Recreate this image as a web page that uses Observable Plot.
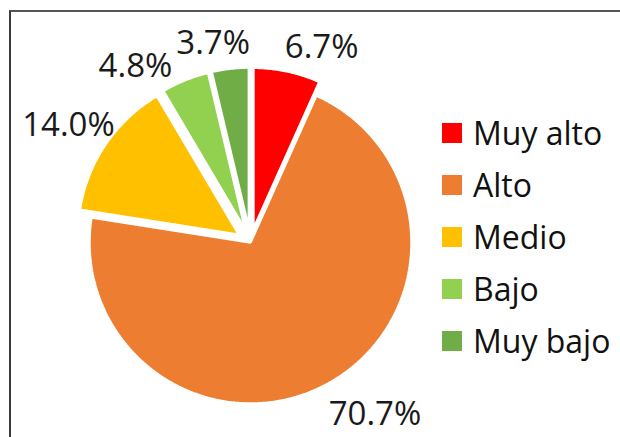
<!DOCTYPE html>
<html><head><meta charset="utf-8">
<script src="https://cdn.jsdelivr.net/npm/d3@7"></script>
<script src="https://cdn.jsdelivr.net/npm/@observablehq/plot@0.6"></script>
<style>
html,body{margin:0;padding:0;background:#fff;overflow:hidden;width:620px;height:437px;}
#frame{position:absolute;left:9px;top:10px;width:700px;height:500px;border-left:2px solid #3a3a3a;border-top:2px solid #555;box-sizing:border-box;}
#chart{position:absolute;left:0;top:0;}
#legend{position:absolute;left:442px;top:107px;font-family:"Open Sans";font-size:32px;color:#111;}
.item{display:flex;align-items:center;height:52px;line-height:1;}
.sw{width:20px;height:20px;margin-right:11px;flex:none;}
</style></head><body>
<div id="chart"></div>
<div id="frame"></div>
<div id="legend"></div>
<script>
// ---- data ----
const categories = ["Muy alto", "Alto", "Medio", "Bajo", "Muy bajo"];
const values = [6.7, 70.7, 14.0, 4.8, 3.7];
const labels = ["6.7%", "70.7%", "14.0%", "4.8%", "3.7%"];
const colors = ["#FF0000", "#ED7D31", "#FFC000", "#92D050", "#70AD47"];
const exploded = [true, false, true, true, true];

// ---- layout ----
const W = 620, H = 437, CX = 250, CY = 242, R = 161;
const EXPLODE = 14, LABEL_RX = 164, LABEL_RY = 186, GAP = 2, FONT = 33, BOX_H = 26;
const FONT_FAMILY = "'Open Sans', sans-serif";

const rows = categories.map((c, i) => ({cat: c, value: values[i], label: labels[i], exploded: exploded[i]}));
const arcs = d3.pie().sort(null).value(d => d.value)(rows);

// slice polygons in radius units (center 0,0, radius 1, y up)
const pts = [];
arcs.forEach(a => {
  const mid = (a.startAngle + a.endAngle) / 2;
  const e = a.data.exploded ? EXPLODE / R : 0;
  const ox = e * Math.sin(mid), oy = e * Math.cos(mid);
  pts.push({cat: a.data.cat, x: ox, y: oy});
  const n = Math.max(2, Math.ceil((a.endAngle - a.startAngle) / (Math.PI / 360)));
  for (let k = 0; k <= n; k++) {
    const t = a.startAngle + (a.endAngle - a.startAngle) * k / n;
    pts.push({cat: a.data.cat, x: ox + Math.sin(t), y: oy + Math.cos(t)});
  }
});

// label boxes (pixel space): nearest corner on an ellipse around the pie
const ctx = document.createElement("canvas").getContext("2d");
ctx.font = `${FONT}px ${FONT_FAMILY}`;
const items = arcs.map(a => {
  const mid = (a.startAngle + a.endAngle) / 2;
  return {label: a.data.label, theta: mid, w: ctx.measureText(a.data.label).width,
          sx: Math.sin(mid) >= 0 ? 1 : -1, sy: Math.cos(mid) >= 0 ? 1 : -1};
});
function box(it) {
  const px = CX + LABEL_RX * Math.sin(it.theta), py = CY - LABEL_RY * Math.cos(it.theta);
  const cx = px + it.sx * it.w / 2;
  const cy = Math.min(py - it.sy * BOX_H / 2, H - FONT * 0.7);
  return {cx, cy, x0: cx - it.w / 2, x1: cx + it.w / 2, y0: cy - BOX_H / 2, y1: cy + BOX_H / 2};
}
// spread colliding labels apart along the circle
const STEP = 0.5 * Math.PI / 180;
for (let iter = 0; iter < 300; iter++) {
  let moved = false;
  for (let i = 0; i < items.length; i++) for (let j = i + 1; j < items.length; j++) {
    const a = box(items[i]), b = box(items[j]);
    if (a.x1 + GAP > b.x0 && b.x1 + GAP > a.x0 && a.y1 > b.y0 && b.y1 > a.y0) {
      const d = Math.atan2(Math.sin(items[j].theta - items[i].theta), Math.cos(items[j].theta - items[i].theta));
      const sgn = d >= 0 ? 1 : -1;
      items[i].theta -= sgn * STEP;
      items[j].theta += sgn * STEP;
      moved = true;
    }
  }
  if (!moved) break;
}
const labelData = items.map(it => { const b = box(it); return {label: it.label, x: (b.cx - CX) / R, y: (CY - b.cy) / R}; });

const chart = Plot.plot({
  width: W, height: H,
  margin: 0,
  x: {domain: [-CX / R, (W - CX) / R], axis: null},
  y: {domain: [-(H - CY) / R, CY / R], axis: null},
  color: {domain: categories, range: colors},
  style: {background: "transparent", fontFamily: FONT_FAMILY},
  marks: [
    Plot.line(pts, {x: "x", y: "y", z: "cat", fill: "cat", stroke: "white", strokeWidth: 2.5, strokeLinejoin: "miter", curve: "linear-closed"}),
    Plot.text(labelData, {x: "x", y: "y", text: "label", fontSize: FONT, fill: "#1a1a1a", textAnchor: "middle", lineAnchor: "middle"})
  ]
});
document.getElementById("chart").appendChild(chart);

// legend
const legend = document.getElementById("legend");
categories.forEach((c, i) => {
  const item = document.createElement("div");
  item.className = "item";
  const sw = document.createElement("span");
  sw.className = "sw";
  sw.style.background = colors[i];
  const tx = document.createElement("span");
  tx.textContent = c;
  item.appendChild(sw); item.appendChild(tx);
  legend.appendChild(item);
});
</script>
</body></html>
